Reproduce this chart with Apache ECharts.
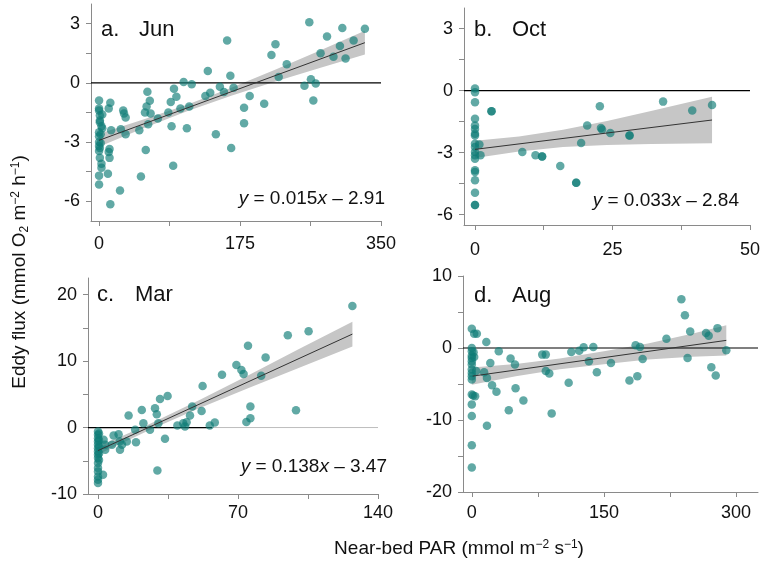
<!DOCTYPE html>
<html><head><meta charset="utf-8">
<script src="https://cdn.jsdelivr.net/npm/echarts@6/dist/echarts.min.js"></script>
<style>html,body{margin:0;padding:0;background:#fff}#c{width:763px;height:572px}</style>
</head><body><div id="c"></div>
<script>
// ---------- data ----------
const junPoints = [[0,-0.89],[0,-1.3],[0,-1.4],[1,-1.65],[1,-1.9],[3,-2.2],[4,-2.3],[0,-2.5],[0,-2.7],[0,-3.0],[0,-3.2],[2,-3.05],[0,-3.45],[1,-3.8],[3,-4.1],[3,-4.3],[0,-4.7],[0,-5.15],[4,-1.6],[1,-2.0],[2,-2.6],[1,-3.3],
[14,-1.0],[12,-1.3],[13,-3.35],[12,-3.5],[13,-3.8],[11,-4.6],[14,-6.15],[15,-2.4],
[26,-5.45],[27,-2.35],[30,-1.4],[31,-1.55],[33,-1.75],[33,-2.6],
[50,-2.4],[52,-4.75],[58,-3.4],[57,-1.5],[59,-1.2],[60,-0.45],[63,-0.9],[64,-1.55],[61,-2.1],
[73,-1.8],[86,-1.5],[89,-0.97],[93,-0.3],[96,-0.7],[90,-2.2],[92,-4.2],[101,-1.3],
[105,0.05],[115,-0.07],[109,-2.3],[112,-1.2],
[135,0.6],[132,-0.66],[138,-0.5],[145,-2.6],[150,-0.2],[155,-0.46],
[159,2.15],[163,0.36],[164,-3.3],[167,-0.24],[180,-1.26],[180,-2.05],[187,-0.66],
[205,-1.06],[214,1.41],[219,1.96],[223,0.3],[233,0.94],
[255,-0.15],[261,3.07],[263,0.19],[266,-0.89],[269,-0.03],
[275,1.5],[283,2.35],[291,1.33],[299,1.87],[302,2.78],[306,1.24],[316,2.15],[330,2.74]];
const junFit = [[0,-2.91],[330,2.04]];
const junBandX = [0,55,110,165,220,275,330];
const junBandHi = [-2.58,-1.86,-1.09,-0.23,0.69,1.66,2.64];
const junBandLo = [-3.24,-2.30,-1.43,-0.64,0.09,0.77,1.44];

const octPoints = [[0,0.11],[0,-0.08],[0,-0.56],[0,-1.36],[0,-1.68],[0,-1.85],[0,-2.09],[0,-2.17],[0,-2.57],[0,-2.73],[0,-2.97],[0,-3.13],[0,-3.29],[0,-3.85],[0,-3.93],[0,-4.33],[0,-4.94],[0,-5.53],[0,-5.53],
[0.8,-2.6],[1,-3.13],[3,-1.0],[3,-1.0],[8.6,-2.97],[11,-3.13],[12.2,-3.18],[12.2,-3.18],[15.5,-3.64],[18.4,-4.46],[18.4,-4.46],[19.3,-2.53],[20.4,-1.68],[22.7,-0.75],[22.9,-1.81],[23.1,-1.88],[24.6,-2.05],[28.1,-2.17],[28.1,-2.17],[34.2,-0.53],[39.5,-0.96],[43.1,-0.69]];
const octFit = [[0,-2.84],[43.1,-1.42]];
const octBandX = [0,8,16,24,32,43.1];
const octBandHi = [-2.42,-2.22,-1.89,-1.47,-0.98,-0.30];
const octBandLo = [-3.26,-2.94,-2.73,-2.63,-2.58,-2.54];

const marPoints = [[0,-0.6],[0,-1.1],[0,-1.6],[0,-2.1],[0,-2.6],[0,-3.1],[0,-3.6],[0,-4.1],[0,-4.6],[0,-5.35],[0,-6.1],[0,-6.6],[0,-7.35],[0,-7.85],[0,-8.35],[0.5,-0.9],[0.5,-1.9],[0.5,-2.9],[0.5,-3.9],[0.5,-4.9],[2.5,-7.1],
[2.8,-1.85],[3.6,-2.6],[3.6,-3.35],[7,-2.6],[7.8,-1.2],[10.3,-1.0],[10.8,-2.1],[11,-3.35],[12,-2.6],[14.4,-2.1],[15.3,1.8],[19,-2.2],[18.6,-0.35],[21.9,2.65],[22.7,0.65],[26,-0.35],[28.5,2.9],[29.4,2.0],[29.7,-6.45],[30.2,0.65],[31,4.3],[33.5,-1.7],[34.8,4.75],[39.7,0.3],[42.6,0.65],[43.5,0.15],[44.3,0.8],[46,1.8],[47.1,3.15],[51.8,2.5],[52.3,6.25],[55.9,0.3],[58.4,0.75],[62,7.95],[69.2,9.4],[71.7,8.65],[72.8,8.05],[74.2,0.85],[75,12.3],[76.2,3.15],[76.2,1.4],[81.6,7.8],[83.8,10.55],[94.9,13.9],[99,2.6],[105.3,14.5],[127.2,18.3]];
const marFit = [[0,-3.47],[127.2,14.06]];
const marBandX = [0,25,50,75,100,127.2];
const marBandHi = [-2.87,0.43,4.03,7.83,11.73,15.91];
const marBandLo = [-4.07,-0.47,2.83,5.93,8.93,12.21];

const augPoints = [[0,2.67],[0,0],[0,-0.46],[0,-1.06],[0,-1.38],[0,-1.84],[0,-2.3],[0,-3.0],[0,-3.46],[0,-3.92],[0,-4.38],[0,-6.45],[0,-7.83],[0,-9.45],[0,-13.5],[0,-16.6],[2.7,1.98],[5.7,1.98],[3.8,-6.7],[1.5,-6.6],[5,-3.2],[2.7,-1.24],[2,-0.6],
[16.5,0.83],[17.2,-4.15],[14,-3.36],[17.2,-10.8],[21,-2.07],[23,-5.16],[28,-6.08],[30.6,-0.46],
[42,-8.66],[44,-1.47],[49,-2.3],[49.7,-5.6],[58.6,-7.28],
[80,-0.92],[84,-0.92],[84,-3.2],[88,-3.55],[90.7,-9.08],
[110,-4.84],[113,-0.55],[122,-0.37],[127,0.09],[133,-1.84],[138,0.14],[142,-3.36],
[158,-2.07],[179,-4.52],[186,0.37],[188,-3.92],[191,0.14],[194,-1.52],
[221,1.29],[238,6.77],[242,4.56],[245,-1.38],[248,2.3],[266,2.07],[269,1.7],[272,-2.67],[277,-3.82],[279,2.76],[289,-0.32]];
const augFit = [[1,-3.9],[289,1.06]];
const augBandX = [0,50,100,150,200,250,289];
const augBandHi = [-2.72,-2.21,-1.45,-0.44,0.62,1.98,3.15];
const augBandLo = [-5.12,-3.91,-2.95,-2.24,-1.58,-1.22,-1.05];

// tick values
const junXTicks = [0,175,350], junXMinor = [0,87.5,175,262.5,350];
const junYTicks = [-6,-3,0,3], junYMinor = [-6,-4.5,-3,-1.5,0,1.5,3];
const octXTicks = [0,25,50], octXMinor = [0,12.5,25,37.5,50];
const octYTicks = [-6,-3,0,3], octYMinor = [-6,-4.5,-3,-1.5,0,1.5,3];
const marXTicks = [0,70,140], marXMinor = [0,35,70,105,140];
const marYTicks = [-10,0,10,20], marYMinor = [-10,-5,0,5,10,15,20];
const augXTicks = [0,150,300], augXMinor = [0,75,150,225,300];
const augYTicks = [-20,-10,0,10], augYMinor = [-20,-15,-10,-5,0,5,10];

const panelNames = ['a.','b.','c.','d.'];
const monthNames = ['Jun','Oct','Mar','Aug'];
const equations = ['0.015|2.91','0.033|2.84','0.138|3.47',''];

// ---------- chart ----------
const FONT = 'Liberation Sans, Arial, sans-serif';
const AX = '#8a8a8a';
const DOT = 'rgba(14,124,118,0.82)';
const panels = [
  {pts:junPoints, fit:junFit, bx:junBandX, bh:junBandHi, bl:junBandLo, xt:junXTicks, xm:junXMinor, yt:junYTicks, ym:junYMinor,
   xmin:-10, xmax:350, ymin:-7, ymax:4, grid:{left:91, top:4, width:290, height:217}, xm_:14},
  {pts:octPoints, fit:octFit, bx:octBandX, bh:octBandHi, bl:octBandLo, xt:octXTicks, xm:octXMinor, yt:octYTicks, ym:octYMinor,
   xmin:-2, xmax:50, ymin:-6.5, ymax:4, grid:{left:464, top:8, width:289, height:217}, xm_:16},
  {pts:marPoints, fit:marFit, bx:marBandX, bh:marBandHi, bl:marBandLo, xt:marXTicks, xm:marXMinor, yt:marYTicks, ym:marYMinor,
   xmin:-5, xmax:140, ymin:-10, ymax:22.5, grid:{left:88, top:278, width:290, height:216}, xm_:10},
  {pts:augPoints, fit:augFit, bx:augBandX, bh:augBandHi, bl:augBandLo, xt:augXTicks, xm:augXMinor, yt:augYTicks, ym:augYMinor,
   xmin:-10, xmax:325, ymin:-20, ymax:10, grid:{left:463, top:276, width:295, height:216}, xm_:12}
];

const grids = [], xAxes = [], yAxes = [], series = [];
panels.forEach((p, i) => {
  grids.push(Object.assign({containLabel:false}, p.grid));
  xAxes.push({type:'value', gridIndex:i, min:p.xmin, max:p.xmax,
    axisLine:{show:true, onZero:false, lineStyle:{color:AX, width:1}},
    axisTick:{show:true, customValues:p.xm, length:5, lineStyle:{color:AX}},
    axisLabel:{customValues:p.xt, color:'#111', fontSize:18, fontFamily:FONT, margin:p.xm_},
    splitLine:{show:false}});
  yAxes.push({type:'value', gridIndex:i, min:p.ymin, max:p.ymax,
    axisLine:{show:true, onZero:false, lineStyle:{color:AX, width:1}},
    axisTick:{show:true, customValues:p.ym, length:5, lineStyle:{color:AX}},
    axisLabel:{customValues:p.yt, color:'#111', fontSize:18, fontFamily:FONT, margin:11},
    splitLine:{show:false}});
  // confidence band
  series.push({type:'custom', xAxisIndex:i, yAxisIndex:i, data:[[p.bx[0], p.bh[0]]], silent:true, z:1,
    renderItem: (params, api) => {
      const pts = [];
      p.bx.forEach((x,k) => pts.push(api.coord([x, p.bh[k]])));
      for (let k = p.bx.length-1; k >= 0; k--) pts.push(api.coord([p.bx[k], p.bl[k]]));
      return {type:'polygon', shape:{points:pts}, style:{fill:'#c6c6c6', stroke:null}};
    }});
  // zero line
  if (i === 2) {
    series.push({type:'line', xAxisIndex:i, yAxisIndex:i, data:[[p.xmin,0],[p.xmax,0]], symbol:'none', silent:true, z:2,
      lineStyle:{color:'#bdbdbd', width:1}});
    series.push({type:'line', xAxisIndex:i, yAxisIndex:i, data:[[p.xmin,0],[57,0]], symbol:'none', silent:true, z:2,
      lineStyle:{color:'#000', width:1.2}});
  } else {
    series.push({type:'line', xAxisIndex:i, yAxisIndex:i, data:[[p.xmin,0],[p.xmax,0]], symbol:'none', silent:true, z:2,
      lineStyle:{color:'#000', width:1.2}});
  }
  series.push({type:'scatter', xAxisIndex:i, yAxisIndex:i, data:p.pts, symbolSize:8.5, silent:true, z:3,
    itemStyle:{color:DOT}});
  series.push({type:'line', xAxisIndex:i, yAxisIndex:i, data:p.fit, symbol:'none', silent:true, z:4,
    lineStyle:{color:'#333', width:1}});
});

const graphic = [];
const labelPos = [[101,30],[474,30],[97,295],[474,296]];
panels.forEach((p,i) => {
  graphic.push({type:'text', x:labelPos[i][0], y:labelPos[i][1], style:{text:panelNames[i], fontSize:22, fontFamily:FONT, fill:'#111', verticalAlign:'middle'}});
  graphic.push({type:'text', x:labelPos[i][0]+38, y:labelPos[i][1], style:{text:monthNames[i], fontSize:22, fontFamily:FONT, fill:'#111', verticalAlign:'middle'}});
});
const eqPos = [[385,199],[739,201],[387,467]];
equations.forEach((e,i) => {
  if (!e) return;
  const [s, b] = e.split('|');
  graphic.push({type:'text', x:eqPos[i][0], y:eqPos[i][1], style:{
    text:'{i|y} = ' + s + '{i|x} \u2013 ' + b, fontSize:19, fontFamily:FONT, fill:'#111', align:'right', verticalAlign:'middle',
    rich:{i:{fontStyle:'italic', fontSize:19, fontFamily:FONT, fill:'#111'}}}});
});
graphic.push({type:'text', x:459, y:549, style:{
  text:'Near-bed PAR (mmol m{sup|\u22122} s{sup|\u22121})', fontSize:19, fontFamily:FONT, fill:'#111', align:'center', verticalAlign:'middle',
  rich:{sup:{fontSize:12, fontFamily:FONT, fill:'#111', padding:[0,0,9,0]}}}});
graphic.push({type:'text', x:20, y:272, rotation:Math.PI/2, style:{
  text:'Eddy flux (mmol O{sub|2} m{sup|\u22122} h{sup|\u22121})', fontSize:19, fontFamily:FONT, fill:'#111', align:'center', verticalAlign:'middle',
  rich:{sup:{fontSize:12, fontFamily:FONT, fill:'#111', padding:[0,0,9,0]}, sub:{fontSize:12, fontFamily:FONT, fill:'#111', padding:[9,0,0,0]}}}});

const chart = echarts.init(document.getElementById('c'), null, {renderer:'canvas'});
chart.setOption({animation:false, backgroundColor:'#fff', grid:grids, xAxis:xAxes, yAxis:yAxes, series:series, graphic:graphic});
</script>
</body></html>
